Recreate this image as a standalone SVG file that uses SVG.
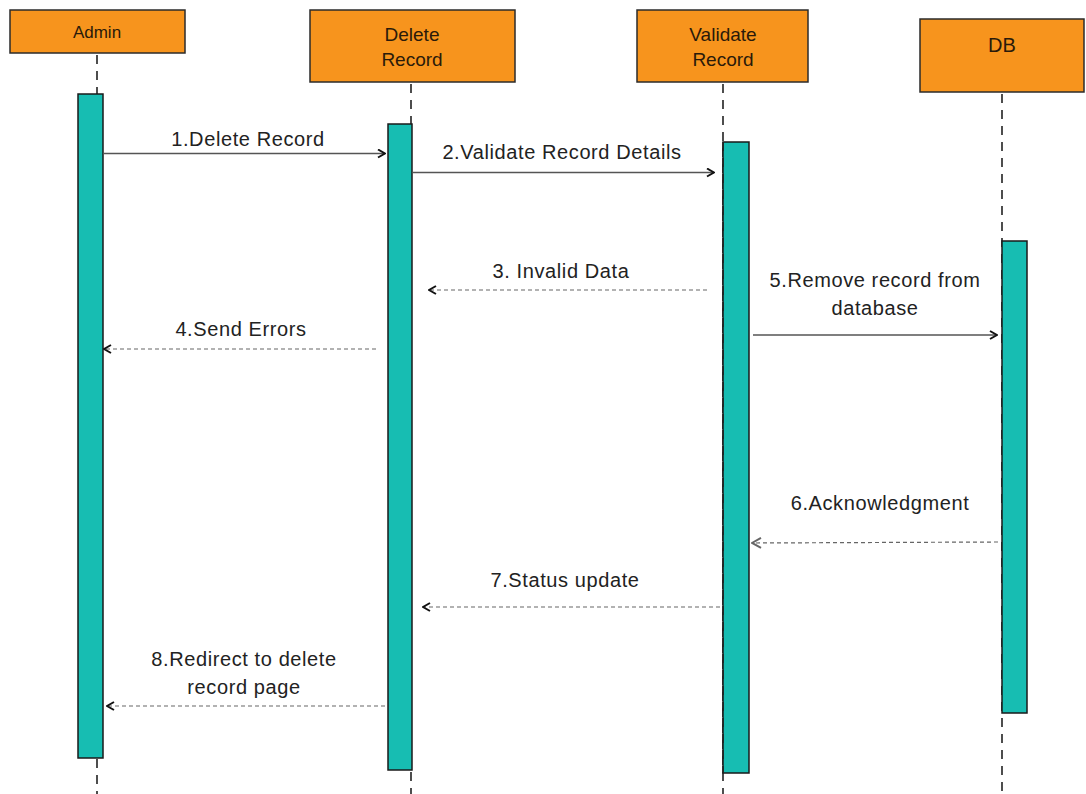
<svg xmlns="http://www.w3.org/2000/svg" width="1086" height="794" viewBox="0 0 1086 794">
<style>
.head{fill:#F7941D;stroke:#2b2b2b;stroke-width:1.5}
.bar{fill:#17BDB2;stroke:#1a1a1a;stroke-width:1.5}
.life{stroke:#222;stroke-width:1.6;stroke-dasharray:9 7;fill:none}
.lbl{font-family:"Liberation Sans",Arial,sans-serif;fill:#2a1a0a;text-anchor:middle}
.msg{font-family:"Liberation Sans",Arial,sans-serif;font-size:20px;letter-spacing:0.6px;fill:#222;text-anchor:middle}
.sync{stroke:#555;stroke-width:1.4;fill:none}
.ret{stroke:#666;stroke-width:1.2;stroke-dasharray:4 3;fill:none}
</style>
<defs>
<marker id="ah" viewBox="0 0 10 10" refX="9" refY="5" markerWidth="10" markerHeight="10" markerUnits="userSpaceOnUse" orient="auto">
<path d="M2,1 L9,5 L2,9" fill="none" stroke="#111" stroke-width="2"/>
</marker>
<marker id="ahg" viewBox="0 0 12 12" refX="11" refY="6" markerWidth="12" markerHeight="12" markerUnits="userSpaceOnUse" orient="auto">
<path d="M2,1 L11,6 L2,11" fill="none" stroke="#666" stroke-width="2"/>
</marker>
</defs>

<g id="lifelines">
<line class="life" x1="97" y1="55" x2="97" y2="794"/>
<line class="life" x1="411" y1="84" x2="411" y2="794"/>
<line class="life" x1="723" y1="84" x2="723" y2="794"/>
<line class="life" x1="1002" y1="94" x2="1002" y2="794"/>
</g>

<g id="node-admin">
<rect class="head" x="10" y="10" width="175" height="43"/>
<text class="lbl" x="97" y="38" font-size="17">Admin</text>
<rect class="bar" x="78" y="94" width="25" height="664"/>
</g>

<g id="node-delete-record">
<rect class="head" x="310" y="10" width="205" height="72"/>
<text class="lbl" x="412" y="41" font-size="19">Delete</text>
<text class="lbl" x="412" y="66" font-size="19">Record</text>
<rect class="bar" x="388" y="124" width="24" height="646"/>
</g>

<g id="node-validate-record">
<rect class="head" x="637" y="10" width="171" height="72"/>
<text class="lbl" x="723" y="41" font-size="19">Validate</text>
<text class="lbl" x="723" y="66" font-size="19">Record</text>
<rect class="bar" x="723" y="142" width="26" height="631"/>
<line class="life" x1="723" y1="142" x2="723" y2="773"/>
</g>

<g id="node-db">
<rect class="head" x="920" y="19" width="164" height="73"/>
<text class="lbl" x="1002" y="52" font-size="20">DB</text>
<rect class="bar" x="1002" y="241" width="25" height="472"/>
</g>

<g id="connectors">
<line class="sync" x1="103" y1="153.5" x2="385" y2="153.5" marker-end="url(#ah)"/>
<line class="sync" x1="413" y1="172.5" x2="714" y2="172.5" marker-end="url(#ah)"/>
<line class="ret" x1="707" y1="290" x2="429" y2="290" marker-end="url(#ah)"/>
<line class="ret" x1="376" y1="349" x2="104" y2="349" marker-end="url(#ah)"/>
<line class="sync" x1="753" y1="335" x2="997" y2="335" stroke="#222" marker-end="url(#ah)"/>
<line class="ret" x1="998" y1="542" x2="752" y2="543" stroke-dasharray="6 3 2 3" marker-end="url(#ahg)"/>
<line class="ret" x1="720" y1="607" x2="423" y2="607" marker-end="url(#ah)"/>
<line class="ret" x1="385" y1="706" x2="107" y2="706" marker-end="url(#ah)"/>
</g>

<g id="labels">
<text class="msg" x="248" y="146">1.Delete Record</text>
<text class="msg" x="562" y="159">2.Validate Record Details</text>
<text class="msg" x="561" y="278">3. Invalid Data</text>
<text class="msg" x="241" y="336">4.Send Errors</text>
<text class="msg" x="875" y="287">5.Remove record from</text>
<text class="msg" x="875" y="315">database</text>
<text class="msg" x="880" y="510">6.Acknowledgment</text>
<text class="msg" x="565" y="587">7.Status update</text>
<text class="msg" x="244" y="666">8.Redirect to delete</text>
<text class="msg" x="244" y="694">record page</text>
</g>
</svg>
